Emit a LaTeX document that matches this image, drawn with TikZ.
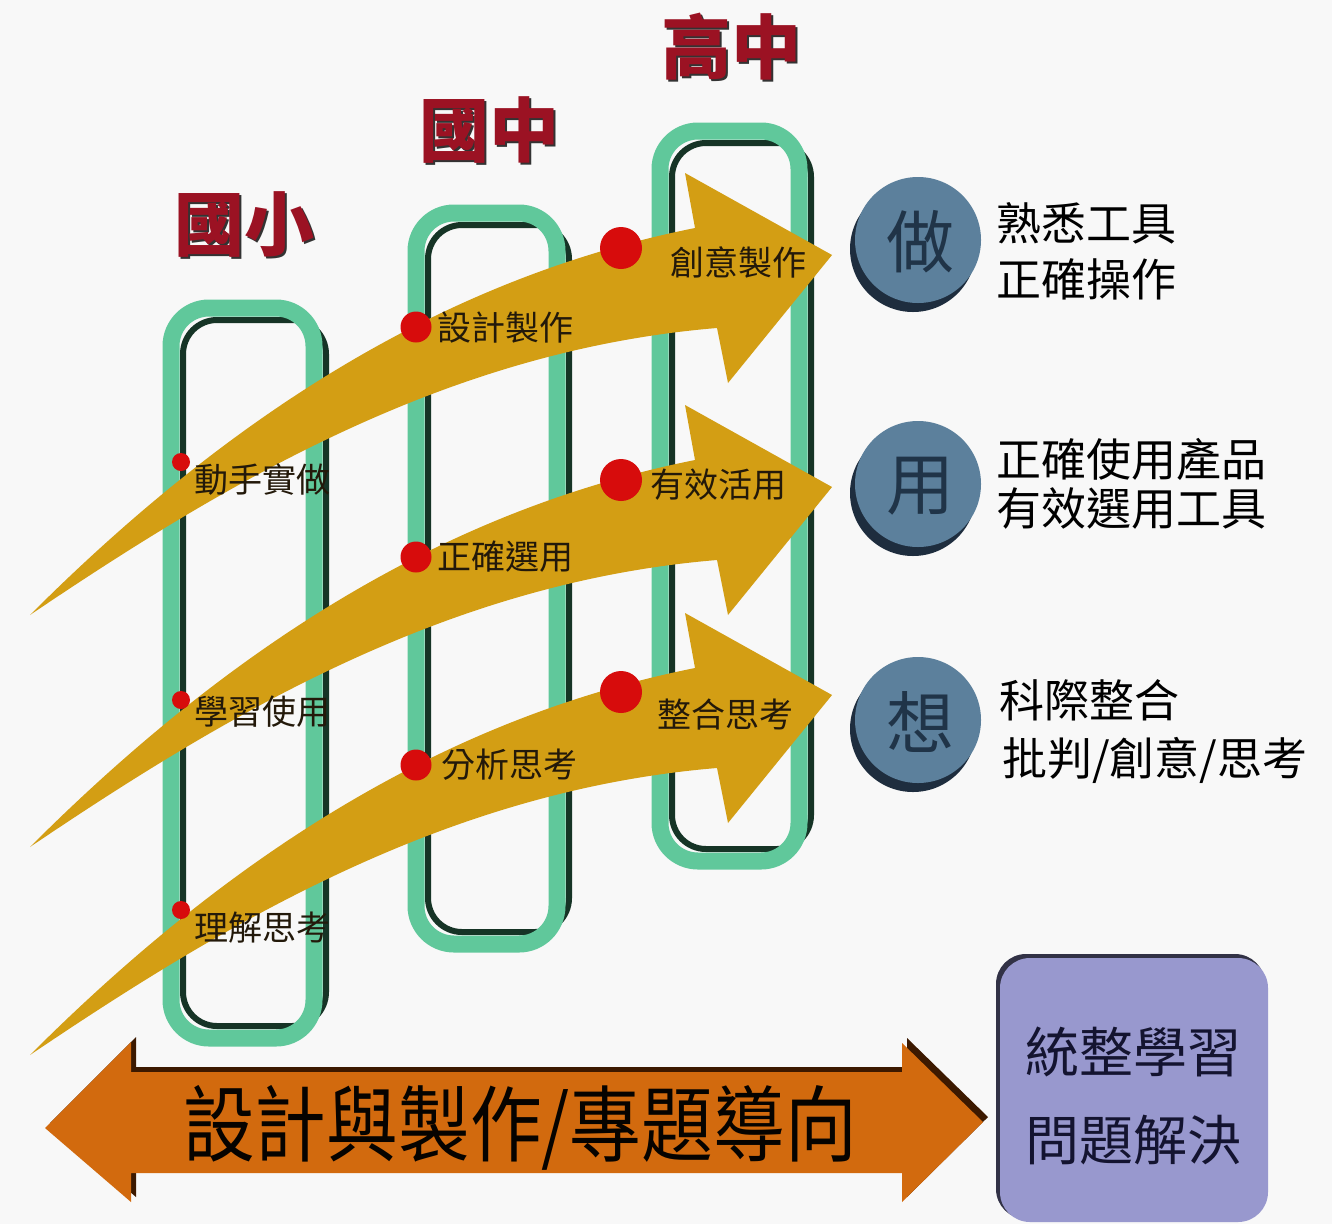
\documentclass[tikz,border=0pt]{standalone}
\usepackage{fontspec}
\newfontfamily\cjk{Noto Sans CJK TC}
\definecolor{bg}{RGB}{248,248,248}
\definecolor{teal}{RGB}{96,200,155}
\definecolor{tealdark}{RGB}{22,52,38}
\definecolor{gold}{RGB}{211,158,20}
\definecolor{dotred}{RGB}{215,12,12}
\definecolor{lbltext}{RGB}{35,25,10}
\definecolor{hdrred}{RGB}{155,18,35}
\definecolor{circblue}{RGB}{92,128,156}
\definecolor{circdark}{RGB}{30,45,62}
\definecolor{circtext}{RGB}{32,52,72}
\definecolor{orangebar}{RGB}{210,106,14}
\definecolor{orangedark}{RGB}{60,25,0}
\definecolor{lavender}{RGB}{152,152,206}
\definecolor{lavdark}{RGB}{50,50,70}
\definecolor{navytext}{RGB}{20,20,48}
\tikzset{
  lbl/.style={font=\cjk\fontsize{34}{38}\selectfont, text=lbltext, inner sep=0pt, anchor=west},
  rtxt/.style={font=\cjk\fontsize{45}{50}\selectfont, text=black, inner sep=0pt, anchor=west},
  hdr/.style={font=\cjk\bfseries\fontsize{70}{72}\selectfont, text=hdrred, inner sep=0pt},
  hdrshadow/.style={font=\cjk\bfseries\fontsize{70}{72}\selectfont, text=black!80, inner sep=0pt},
  bigdot/.style={circle, fill=dotred, inner sep=0pt, minimum size=42pt},
  middot/.style={circle, fill=dotred, inner sep=0pt, minimum size=31pt},
  smalldot/.style={circle, fill=dotred, inner sep=0pt, minimum size=18pt},
  stagebox/.style={draw=teal, line width=17pt, rounded corners=38pt},
  stageshadow/.style={draw=tealdark, line width=6pt, rounded corners=34pt},
  circtxt/.style={font=\cjk\fontsize{68}{70}\selectfont, text=circtext, inner sep=0pt},
  boxtxt/.style={font=\cjk\fontsize{54}{58}\selectfont, text=navytext, inner sep=0pt},
}
\begin{document}
\begin{tikzpicture}[x=1pt,y=-1pt]
\fill[bg] (0,0) rectangle (1332,1224);
\useasboundingbox (0,0) rectangle (1332,1224);

% stage boxes (shadow then teal)
\draw[stageshadow] (183,320) rectangle (326,1026);
\draw[stagebox] (171,308) rectangle (314,1038);
\draw[stageshadow] (428,225) rectangle (569,932);
\draw[stagebox] (416,213) rectangle (557,944);
\draw[stageshadow] (672,143) rectangle (811,849);
\draw[stagebox] (660,131) rectangle (799,861);

% headers
\node[hdrshadow] (h1s) at (246,226) {國小};
\node[hdr] (h1) at (244,224) {國小};
\node[hdrshadow] (h2s) at (491,132) {國中};
\node[hdr] (h2) at (489,130) {國中};
\node[hdrshadow] (h3s) at (733,49) {高中};
\node[hdr] (h3) at (731,47) {高中};

% three curved arrows
\foreach \dy in {0,232,440}{
  \begin{scope}[shift={(0,\dy)}]
    \fill[gold] (30,615) .. controls (230,415) and (445,278) .. (695,228)
      -- (685,173) -- (832,255) -- (728,383) -- (717,328)
      .. controls (450,350) and (230,480) .. cycle;
  \end{scope}
}

% dots
\node[smalldot] (d11) at (181,462) {};
\node[smalldot] (d12) at (181,700) {};
\node[smalldot] (d13) at (181,910) {};
\node[middot] (d21) at (416,327) {};
\node[middot] (d22) at (416,557) {};
\node[middot] (d23) at (416,765) {};
\node[bigdot] (d31) at (621,248) {};
\node[bigdot] (d32) at (621,480) {};
\node[bigdot] (d33) at (621,692) {};

% labels
\node[lbl] (l11) at (194,480) {動手實做};
\node[lbl] (l12) at (194,712) {學習使用};
\node[lbl] (l13) at (194,928) {理解思考};
\node[lbl] (l21) at (437,328) {設計製作};
\node[lbl] (l22) at (437,557) {正確選用};
\node[lbl] (l23) at (441,765) {分析思考};
\node[lbl] (l31) at (670,262) {創意製作};
\node[lbl] (l32) at (650,485) {有效活用};
\node[lbl] (l33) at (657,714) {整合思考};

% circles
\foreach \cy/\ch/\nm in {240/做/c1, 484/用/c2, 720/想/c3}{
  \fill[circdark] (913,\cy+9) circle (63);
  \node[circle, fill=circblue, minimum size=126pt, inner sep=0pt] (\nm) at (918,\cy) {};
  \node[circtxt] (\nm t) at (920,\cy+2) {\ch};
}

% right texts
\node[rtxt] (r11) at (996,223) {熟悉工具};
\node[rtxt] (r12) at (996,279) {正確操作};
\node[rtxt] (r21) at (996,459) {正確使用產品};
\node[rtxt] (r22) at (996,508) {有效選用工具};
\node[rtxt] (r31) at (999,700) {科際整合};
\node[rtxt] (r32) at (1002,760) {批判/創意/思考};

% bottom double arrow
\fill[orangedark] (50,1123) -- (136,1037) -- (136,1067) -- (907,1067) -- (907,1038)
  -- (988,1117) -- (907,1197) -- (907,1168) -- (136,1168) -- (136,1197) -- cycle;
\fill[orangebar] (45,1128) -- (131,1042) -- (131,1072) -- (902,1072) -- (902,1043)
  -- (983,1122) -- (902,1202) -- (902,1173) -- (131,1173) -- (131,1202) -- cycle;
\node[font=\cjk\fontsize{71}{74}\selectfont, text=black!90!orangedark, inner sep=0pt] (bt) at (520,1128) {\scalebox{1.01}[1.17]{設計與製作/專題導向}};

% integration box
\fill[lavdark, rounded corners=30pt] (996,954) rectangle (1265,1219);
\fill[lavender, rounded corners=30pt] (1000,958) rectangle (1268,1222);
\node[boxtxt] (b1) at (1133,1052) {統整學習};
\node[boxtxt] (b2) at (1133,1140) {問題解決};
\end{tikzpicture}
\end{document}
